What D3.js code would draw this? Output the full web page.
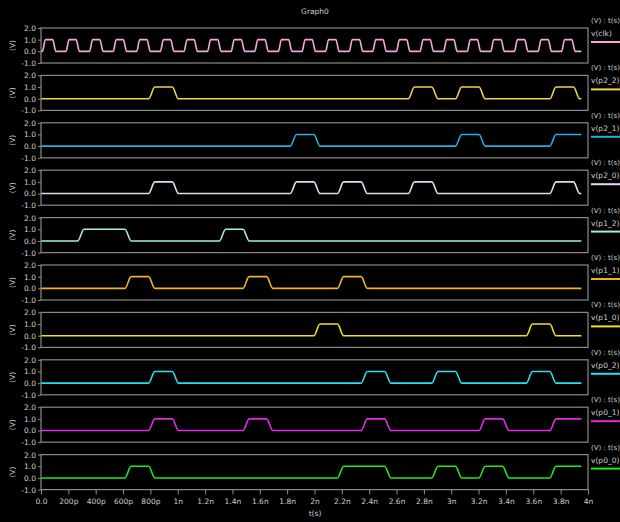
<!DOCTYPE html>
<html>
<head>
<meta charset="utf-8">
<script src="https://cdn.jsdelivr.net/npm/d3@7"></script>
<style>
  html, body { margin: 0; padding: 0; background: #000; }
  svg { display: block; }
  text { font-family: "DejaVu Sans", sans-serif; fill: #d0d0d0; }
</style>
</head>
<body>
<svg></svg>
<script>
// signal names (top to bottom) and colours
const names = ["v(clk)", "v(p2_2)", "v(p2_1)", "v(p2_0)", "v(p1_2)", "v(p1_1)", "v(p1_0)", "v(p0_2)", "v(p0_1)", "v(p0_0)"];
const colors = ["#f4a6d8", "#f2d34a", "#1fb0e6", "#ecd6f2", "#a6f0d2", "#f2b21e", "#f2e40a", "#22e2f2", "#e627e6", "#22e622"];

// clock rising edges (ns), pulse high ~ 0.087n
const clkRise = [0.010, 0.183, 0.355, 0.528, 0.700, 0.873, 1.046, 1.218, 1.391, 1.563, 1.736, 1.909,
                 2.081, 2.254, 2.426, 2.599, 2.772, 2.944, 3.117, 3.289, 3.462, 3.635, 3.807];
const clkFall = [0.097, 0.269, 0.442, 0.614, 0.787, 0.960, 1.132, 1.305, 1.477, 1.650, 1.823, 1.995,
                 2.168, 2.341, 2.513, 2.686, 2.858, 3.031, 3.203, 3.376, 3.549, 3.721, 3.894];

// high pulses [rise start, fall start] in ns (null = stays high to the end)
const p2_2 = [[0.787, 0.960], [2.686, 2.858], [3.031, 3.203], [3.721, 3.894]];
const p2_1 = [[1.823, 1.995], [3.031, 3.203], [3.721, null]];
const p2_0 = [[0.787, 0.960], [1.823, 1.995], [2.168, 2.341], [2.686, 2.858], [3.721, 3.894]];
const p1_2 = [[0.269, 0.614], [1.305, 1.477]];
const p1_1 = [[0.614, 0.787], [1.477, 1.650], [2.168, 2.341]];
const p1_0 = [[1.995, 2.168], [3.549, 3.721]];
const p0_2 = [[0.787, 0.960], [2.341, 2.513], [2.858, 3.031], [3.549, 3.721]];
const p0_1 = [[0.787, 0.960], [1.477, 1.650], [2.341, 2.513], [3.203, 3.376], [3.721, null]];
const p0_0 = [[0.614, 0.787], [2.168, 2.513], [2.858, 3.031], [3.203, 3.376], [3.721, null]];

const xTicks = [0, 0.2, 0.4, 0.6, 0.8, 1.0, 1.2, 1.4, 1.6, 1.8, 2.0, 2.2, 2.4, 2.6, 2.8, 3.0, 3.2, 3.4, 3.6, 3.8, 4.0];
const xTickLabels = ["0.0", "200p", "400p", "600p", "800p", "1n", "1.2n", "1.4n", "1.6n", "1.8n", "2n",
                     "2.2n", "2.4n", "2.6n", "2.8n", "3n", "3.2n", "3.4n", "3.6n", "3.8n", "4n"];
const yTicks = [2, 1, 0, -1];
const yTickLabels = ["2.0", "1.0", "0.0", "-1.0"];
const tEnd = 3.952;

const width = 620, height = 522;
const svg = d3.select("svg").attr("width", width).attr("height", height);
svg.append("rect").attr("width", width).attr("height", height).attr("fill", "#000");

const left = 41, right = 588;
const panelTop = 28, panelH = 35, panelStep = 47.4;

const x = d3.scaleLinear().domain([0, 4]).range([left, right]);

// build waveform points from pulse list
function wave(pulses, tr, tf) {
    const pts = [[0, 0]];
    pulses.forEach(p => {
        pts.push([p[0], 0], [p[0] + tr, 1]);
        if (p[1] === null) return;
        if (p[1] >= tEnd) return;
        pts.push([p[1], 1]);
        if (p[1] + tf <= tEnd) pts.push([p[1] + tf, 0]);
        else pts.push([tEnd, 1 - (tEnd - p[1]) / tf]);
    });
    const last = pts[pts.length - 1];
    if (last[0] < tEnd) pts.push([tEnd, last[1]]);
    return pts;
}

const clkPulses = clkRise.map((r, i) => [r, clkFall[i] - 0.012]);
const series = [
    wave(clkPulses, 0.022, 0.024),
    wave(p2_2, 0.045, 0.045),
    wave(p2_1, 0.045, 0.045),
    wave(p2_0, 0.045, 0.045),
    wave(p1_2, 0.045, 0.045),
    wave(p1_1, 0.045, 0.045),
    wave(p1_0, 0.045, 0.045),
    wave(p0_2, 0.045, 0.045),
    wave(p0_1, 0.045, 0.045),
    wave(p0_0, 0.045, 0.045)
];

// title
svg.append("text").attr("x", 315).attr("y", 14).attr("text-anchor", "middle")
    .attr("font-size", 7.5).text("Graph0");

series.forEach((pts, i) => {
    const top = panelTop + i * panelStep;
    const y = d3.scaleLinear().domain([-1, 2]).range([top + panelH, top]);
    const g = svg.append("g");

    // y axis
    const yAxis = g.append("g").attr("transform", `translate(${left},0)`)
        .call(d3.axisLeft(y).tickValues(yTicks).tickSize(3).tickFormat((d, k) => yTickLabels[k]));
    yAxis.select(".domain").remove();
    yAxis.selectAll(".tick line").attr("stroke", "#8a8a8a");
    yAxis.selectAll(".tick text").attr("font-size", 7.5).attr("fill", "#d0d0d0")
        .attr("font-family", "DejaVu Sans").attr("x", -5);

    g.append("text").attr("transform", `translate(15,${top + panelH / 2}) rotate(-90)`)
        .attr("text-anchor", "middle").attr("font-size", 7.5).text("(V)");

    // waveform
    const line = d3.line().x(d => x(d[0])).y(d => y(d[1])).curve(d3.curveMonotoneX);
    g.append("path").datum(pts).attr("d", line).attr("fill", "none")
        .attr("stroke", colors[i]).attr("stroke-width", 1.6);

    // frame
    g.append("rect").attr("x", left).attr("y", top).attr("width", right - left).attr("height", panelH)
        .attr("fill", "none").attr("stroke", "#8a8a8a").attr("stroke-width", 1.2);

    // legend
    g.append("text").attr("x", 591).attr("y", top - 5).attr("font-size", 7).text("(V) : t(s)");
    g.append("text").attr("x", 591).attr("y", top + 8).attr("font-size", 7.5).text(names[i]);
    g.append("line").attr("x1", 591).attr("x2", 620).attr("y1", top + 14).attr("y2", top + 14)
        .attr("stroke", colors[i]).attr("stroke-width", 2);
});

// x axis under the last panel
const bottom = panelTop + 9 * panelStep + panelH;
const xAxis = svg.append("g").attr("transform", `translate(0,${bottom})`)
    .call(d3.axisBottom(x).tickValues(xTicks).tickSize(5).tickFormat((d, k) => xTickLabels[k]));
xAxis.select(".domain").remove();
xAxis.selectAll(".tick line").attr("stroke", "#8a8a8a");
xAxis.selectAll(".tick text").attr("font-size", 7.5).attr("fill", "#d0d0d0")
    .attr("font-family", "DejaVu Sans").attr("y", 9);

svg.append("text").attr("x", 315).attr("y", 516).attr("text-anchor", "middle")
    .attr("font-size", 7.5).text("t(s)");
</script>
</body>
</html>
